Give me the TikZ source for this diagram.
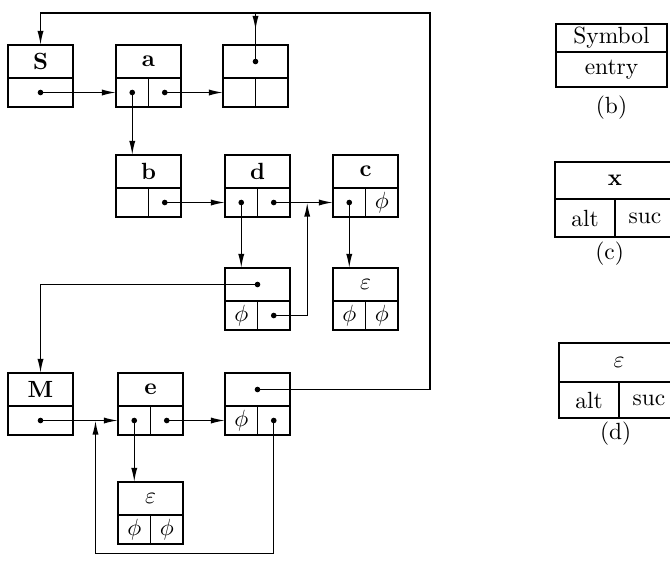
\documentclass[tikz,border=0pt]{standalone}
\usepackage{amsmath, amssymb}
\usepackage{tikz}
\usetikzlibrary{positioning, arrows.meta, calc, decorations.markings}
\tikzset{
  rec head/.style={
    draw, thick, outer sep=0pt, inner sep=0pt,
    minimum width=0.975cm, minimum height=0.495cm,
    font=\bfseries
  },
  rec cell/.style={
    draw, thick, outer sep=0pt, inner sep=0pt,
    minimum width=0.4875cm, minimum height=0.435cm
  },
  rec tail/.style={rec cell, minimum width=0.975cm},
  key box/.style={
    draw, thick, outer sep=0pt, inner sep=0pt,
    minimum width=1.8cm, minimum height=0.555cm
  },
  ptr/.style={-{Latex[length=6pt,width=2.6pt]}, semithick},
  link/.style={semithick},
  mid ptr/.style={
    semithick, postaction={decorate},
    decoration={markings, mark=at position 0.35 with {\arrow{Latex[length=6pt,width=2.6pt]}}}
  }
}

\begin{document}
\begin{tikzpicture}[x=0.015cm, y=-0.015cm]
  \useasboundingbox (0,0) rectangle (670,563);
  \clip (0,0) rectangle (670,563);

  % first row
  \node[rec head, anchor=north west] (S) at (8,45) {S};
  \node[rec tail, below right=0pt of S.south west] (S1) {};
  \node[rec head, anchor=north west] (a) at (116,45) {a};
  \node[rec cell, below right=0pt of a.south west] (a1) {};
  \node[rec cell, right=0pt of a1] (a2) {};
  \node[rec head, anchor=north west] (t) at (223,45) {};
  \node[rec cell, below right=0pt of t.south west] (t1) {};
  \node[rec cell, right=0pt of t1] (t2) {};

  % second row
  \node[rec head, anchor=north west] (b) at (116,155) {b};
  \node[rec cell, below right=0pt of b.south west] (b1) {};
  \node[rec cell, right=0pt of b1] (b2) {};
  \node[rec head, anchor=north west] (d) at (225,155) {d};
  \node[rec cell, below right=0pt of d.south west] (d1) {};
  \node[rec cell, right=0pt of d1] (d2) {};
  \node[rec head, anchor=north west] (c) at (333,155) {c};
  \node[rec cell, below right=0pt of c.south west] (c1) {};
  \node[rec cell, right=0pt of c1] (c2) {$\phi$};

  % third row
  \node[rec head, anchor=north west] (g) at (225,268) {};
  \node[rec cell, below right=0pt of g.south west] (g1) {$\phi$};
  \node[rec cell, right=0pt of g1] (g2) {};
  \node[rec head, anchor=north west] (ce) at (333,268) {$\varepsilon$};
  \node[rec cell, below right=0pt of ce.south west] (ce1) {$\phi$};
  \node[rec cell, right=0pt of ce1] (ce2) {$\phi$};

  % fourth row
  \node[rec head, anchor=north west] (M) at (8,373) {M};
  \node[rec tail, below right=0pt of M.south west] (M1) {};
  \node[rec head, anchor=north west] (e) at (118,373) {e};
  \node[rec cell, below right=0pt of e.south west] (e1) {};
  \node[rec cell, right=0pt of e1] (e2) {};
  \node[rec head, anchor=north west] (h) at (225,373) {};
  \node[rec cell, below right=0pt of h.south west] (h1) {$\phi$};
  \node[rec cell, right=0pt of h1] (h2) {};

  % fifth row
  \node[rec head, anchor=north west] (ee) at (118,482) {$\varepsilon$};
  \node[rec cell, below right=0pt of ee.south west] (ee1) {$\phi$};
  \node[rec cell, right=0pt of ee1] (ee2) {$\phi$};

  % pointer dots
  \fill (S1.center) circle (1.2pt);
  \fill (a1.center) circle (1.2pt);
  \fill (a2.center) circle (1.2pt);
  \fill (t.center) circle (1.2pt);
  \fill (b2.center) circle (1.2pt);
  \fill (d1.center) circle (1.2pt);
  \fill (d2.center) circle (1.2pt);
  \fill (c1.center) circle (1.2pt);
  \fill (g.center) circle (1.2pt);
  \fill (g2.center) circle (1.2pt);
  \fill (M1.center) circle (1.2pt);
  \fill (e1.center) circle (1.2pt);
  \fill (e2.center) circle (1.2pt);
  \fill (h.center) circle (1.2pt);
  \fill (h2.center) circle (1.2pt);

  % junctions
  \coordinate (tr) at (430,13);
  \coordinate (jdc) at ($(d2.east)!0.4!(c1.west)$);
  \coordinate (jme) at ($(M1.east)!0.5!(e1.west)$);

  % pointers
  \draw[ptr] (S1.center) -- (a1.west);
  \draw[ptr] (a1.center) -- (a1.center |- b.north);
  \draw[ptr] (a2.center) -- (t1.west);
  \draw[ptr] (b2.center) -- (d1.west);
  \draw[ptr] (d1.center) -- (d1.center |- g.north);
  \draw[ptr] (d2.center) -- (c1.west);
  \draw[ptr] (c1.center) -- (c1.center |- ce.north);
  \draw[ptr] (g.center) -| (M.north);
  \draw[ptr] (g2.center) -| (jdc);
  \draw[ptr] (M1.center) -- (e1.west);
  \draw[ptr] (e1.center) -- (e1.center |- ee.north);
  \draw[ptr] (e2.center) -- (h1.west);
  \draw[ptr] (h2.center) -- ++(0,133) -| (jme);
  \draw[ptr] (h.center) -| (tr) -| (S.north);
  \draw[mid ptr] (t.center |- tr) -- (t.center);

  % record layouts
  \node[key box, anchor=north west, minimum width=1.665cm, minimum height=0.42cm] (sym) at (556,24) {Symbol};
  \node[key box, below right=0pt of sym.south west, minimum width=1.665cm, minimum height=0.53cm] (ent) {entry};
  \node[below=0pt of ent] (lb) {(b)};

  \node[key box, anchor=north west] (x) at (555,162) {\textbf{x}};
  \node[key box, below right=0pt of x.south west, minimum width=0.9cm, minimum height=0.57cm] (xa) {alt};
  \node[key box, right=0pt of xa, minimum width=0.9cm, minimum height=0.57cm] (xs) {suc};
  \node[below=-0.05cm of xa.south east, xshift=-0.08cm] (lc) {(c)};

  \node[key box, anchor=north west, minimum height=0.585cm] (y) at (559,343) {$\varepsilon$};
  \node[key box, below right=0pt of y.south west, minimum width=0.9cm, minimum height=0.54cm] (ya) {alt};
  \node[key box, right=0pt of ya, minimum width=0.9cm, minimum height=0.54cm] (ys) {suc};
  \node[below=-0.07cm of ya.south east, xshift=-0.05cm] (ld) {(d)};
\end{tikzpicture}
\end{document}
